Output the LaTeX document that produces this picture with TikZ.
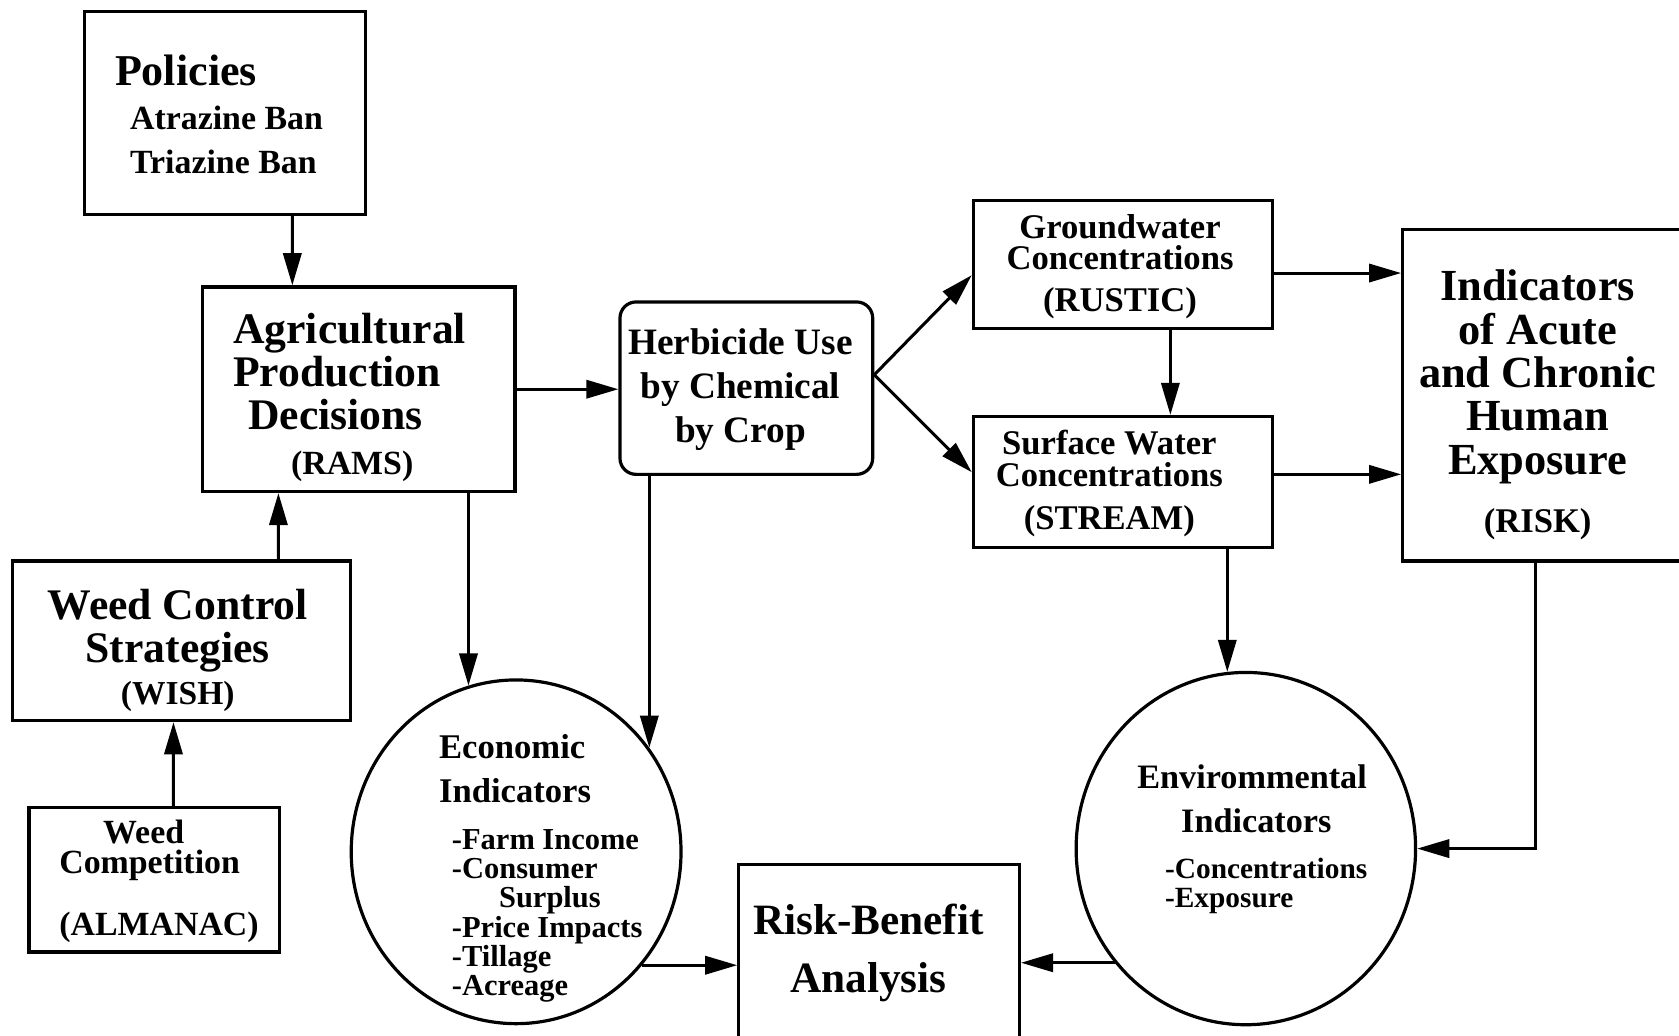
\documentclass[tikz,border=0pt]{standalone}
\usepackage{fontspec}
\setmainfont{Liberation Serif}
\usetikzlibrary{shapes.geometric,arrows.meta}

\begin{document}
\begin{tikzpicture}[x=0.1mm, y=-0.1mm,
    box/.style={draw, line width=0.85pt, inner sep=0pt},
    oval/.style={draw, ellipse, line width=0.85pt, inner sep=0pt},
    txt/.style={inner sep=0pt},
    conn/.style={->, line width=0.8pt},
    >={Triangle[length=3mm,width=1.7mm]}]
    \useasboundingbox (0,0) rectangle (1568,967);

    % boxes
    \node[box, minimum width=26.2mm, minimum height=18.9mm] (pol) at (210,105.5) {};
    \node[box, minimum width=29.2mm, minimum height=19.1mm] (agr) at (335,363.5) {};
    \node[box, rounded corners=1.5mm, minimum width=23.6mm, minimum height=16.1mm] (herb) at (697,362.5) {};
    \node[box, minimum width=27.9mm, minimum height=12mm] (gw) at (1048.5,247) {};
    \node[box, minimum width=27.9mm, minimum height=12.2mm] (sw) at (1048.5,450) {};
    \node[box, minimum width=26mm, minimum height=31mm] (ind) at (1440,369) {};
    \node[box, minimum width=31.5mm, minimum height=14.9mm] (wcs) at (169.5,598.5) {};
    \node[box, minimum width=23.4mm, minimum height=13.5mm] (comp) at (144,821.5) {};
    \node[box, minimum width=26.2mm, minimum height=16.8mm] (rb) at (821,891) {};
    \node[oval, minimum width=30.8mm, minimum height=32.1mm] (econ) at (482,795.5) {};
    \node[oval, minimum width=31.7mm, minimum height=32.9mm] (env) at (1163.5,792.5) {};

    % texts
    \node[txt, align=left, font=\fontsize{9}{11.7}\selectfont\bfseries] (pol-txt) at (204.5,107)
        {{\fontsize{11.7}{11.7}\selectfont Policies}\\ \hspace*{1.4mm}Atrazine Ban\\ \hspace*{1.4mm}Triazine Ban};
    \node[txt, align=left, font=\fontsize{11.6}{11.4}\selectfont\bfseries] (agr-txt) at (326.5,371)
        {Agricultural\\ Production\\ \hspace*{1.4mm}Decisions\\[0.6pt] \hspace*{5.4mm}{\fontsize{9}{11}\selectfont(RAMS)}};
    \node[txt, align=center, font=\fontsize{9.9}{11.7}\selectfont\bfseries] (herb-txt) at (691.5,364)
        {Herbicide Use\\ by Chemical\\ by Crop};
    \node[txt, align=center, font=\fontsize{9.2}{8.3}\selectfont\bfseries] (gw-txt) at (1046,249)
        {Groundwater\\ Concentrations\\[2.8pt] (RUSTIC)};
    \node[txt, align=center, font=\fontsize{9.2}{8.3}\selectfont\bfseries] (sw-txt) at (1036,451.5)
        {Surface Water\\ Concentrations\\[3.1pt] (STREAM)};
    \node[txt, align=center, font=\fontsize{11.8}{11.5}\selectfont\bfseries] (ind-txt) at (1436,378)
        {Indicators\\ of Acute\\ and Chronic\\ Human\\ Exposure\\[3.9pt] {\fontsize{9.2}{11}\selectfont(RISK)}};
    \node[txt, align=center, font=\fontsize{11.6}{11.4}\selectfont\bfseries] (wcs-txt) at (166,607.5)
        {Weed Control\\ Strategies\\ {\fontsize{8.9}{11}\selectfont(WISH)}};
    \node[txt, align=left, font=\fontsize{9}{7.9}\selectfont\bfseries] (comp-txt) at (148.5,823)
        {\hspace*{4.1mm}Weed\\ Competition\\[7.2pt] (ALMANAC)};
    \node[txt, align=left, font=\fontsize{8.1}{7.8}\selectfont\bfseries] (econ-txt) at (505,811)
        {{\fontsize{9.2}{7.8}\selectfont Economic}\\[3.9pt] {\fontsize{9.2}{7.8}\selectfont Indicators}\\[4.7pt]
         \hspace*{1.2mm}-Farm Income\\ \hspace*{1.2mm}-Consumer\\ \hspace*{5.6mm}Surplus\\
         \hspace*{1.2mm}-Price Impacts\\ \hspace*{1.2mm}-Tillage\\ \hspace*{1.2mm}-Acreage};
    \node[txt, align=left, font=\fontsize{7.8}{7.8}\selectfont\bfseries] (env-txt) at (1169.5,783.5)
        {{\fontsize{9.1}{7.8}\selectfont Envirommental}\\[3.9pt] \hspace*{4.1mm}{\fontsize{9.1}{7.8}\selectfont Indicators}\\[4.4pt]
         \hspace*{2.6mm}-Concentrations\\ \hspace*{2.6mm}-Exposure};
    \node[txt, align=center, font=\fontsize{11.5}{15.6}\selectfont\bfseries] (rb-txt) at (811,890)
        {Risk-Benefit\\ Analysis};

    % connectors
    \draw[conn] ([xshift=6.3mm]pol.south) -- ([xshift=-6.2mm]agr.north);
    \draw[conn] ([xshift=9.05mm]wcs.north) -- ([xshift=-7.5mm]agr.south);
    \draw[conn] ([xshift=1.8mm]comp.north) -- ([xshift=-0.75mm]wcs.south);
    \draw[conn] (agr.east) -- (agr.east -| herb.west);
    \draw[conn] ([yshift=1.25mm]herb.east) -- ([yshift=-1mm]gw.west);
    \draw[conn] ([yshift=1.25mm]herb.east) -- ([yshift=0.9mm]sw.west);
    \draw[conn] ([xshift=4.45mm]gw.south) -- ([xshift=4.45mm]sw.north);
    \draw[conn] ([yshift=-0.8mm]gw.east) -- ([yshift=-0.8mm]gw.east -| ind.west);
    \draw[conn] ([yshift=0.7mm]sw.east) -- ([yshift=0.7mm]sw.east -| ind.west);
    \draw[conn] (econ.106 |- agr.south) -- (econ.106);
    \draw[conn] (econ.38 |- herb.south) -- (econ.38);
    \draw[conn] (env.96 |- sw.south) -- (env.96);
    \draw[conn] ([xshift=-0.6mm]ind.south) |- (env.east);
    \draw[conn] (econ.-42) -- (econ.-42 -| rb.west);
    \draw[conn] (env.221) -- (env.221 -| rb.east);
\end{tikzpicture}
\end{document}
